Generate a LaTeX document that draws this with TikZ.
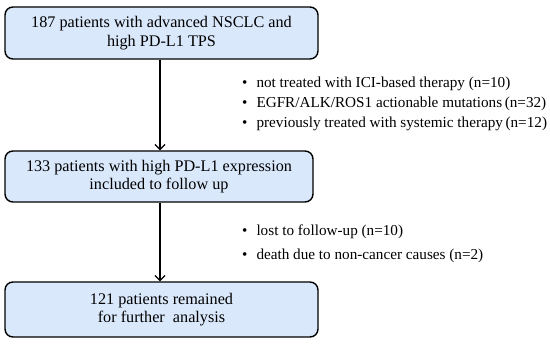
\documentclass[tikz,border=0pt]{standalone}
\usepackage{fontspec}
\setmainfont{Liberation Serif}
\usetikzlibrary{arrows.meta}
\definecolor{boxblue}{RGB}{218,232,252}
\begin{document}
\begin{tikzpicture}[x=1pt,y=-1pt,
  box/.style={draw=black,line width=1.4pt,fill=boxblue,rounded corners=8pt,
    align=center,inner sep=0pt,font=\fontsize{16.2}{18.5}\selectfont},
  arr/.style={line width=1.2pt,-{Straight Barb[length=5pt,width=10pt,line width=1.2pt]}},
  itm/.style={anchor=base west,inner sep=0pt,font=\fontsize{15.2}{18}\selectfont}]
\useasboundingbox (0,0) rectangle (550,344);
\fill[white] (0,0) rectangle (550,344);
\node[box,minimum width=313pt,minimum height=52pt] (b1) at (161.5,33)
  {187 patients with advanced NSCLC and\\high PD-L1 TPS};
\node[box,minimum width=308pt,minimum height=51pt] (b2) at (159,176.5)
  {133 patients with high PD-L1 expression\\included to follow up};
\node[box,minimum width=313pt,minimum height=55pt] (b3) at (161.5,309.5)
  {121 patients remained\\for further\ \ analysis};
\coordinate (a1) at (160,0);
\draw[arr] (b1.south -| a1) -- (b2.north -| a1);
\draw[arr] (b2.south -| a1) -- (b3.north -| a1);
\node[itm] (e1) at (242,88) {\textbullet\hspace{9pt}not treated with ICI-based therapy (n=10)};
\node[itm] (e2) at (242,108) {\textbullet\hspace{9pt}EGFR/ALK/ROS1 actionable mutations\,(n=32)};
\node[itm] (e3) at (242,128) {\textbullet\hspace{9pt}previously treated with systemic therapy\,(n=12)};
\node[itm] (f1) at (242,236) {\textbullet\hspace{9pt}lost to follow-up (n=10)};
\node[itm] (f2) at (242,260) {\textbullet\hspace{9pt}death due to non-cancer causes (n=2)};
\end{tikzpicture}
\end{document}
